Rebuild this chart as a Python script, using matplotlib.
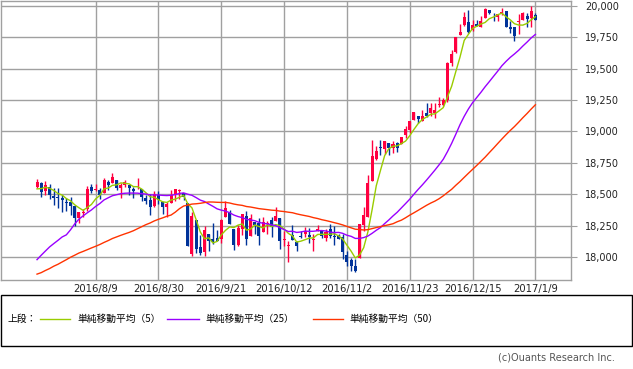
import matplotlib
matplotlib.use("Agg")
import matplotlib.pyplot as plt
from matplotlib.lines import Line2D
from matplotlib.patches import Rectangle
import pandas as pd

# closes before the first drawn day (only used to warm up the moving averages)
prior_close = [17928, 17711, 17720, 17535, 17710, 17530, 17526, 17435, 17500, 17492,
               17706, 17851, 17828, 17873, 17787, 17789, 17838, 17807, 17920, 17938,
               18005, 17985, 17865, 17733, 17675, 17640, 17733, 17675, 17805, 17829,
               17780, 18011, 17400, 17140, 17410, 17695, 17930, 17949, 17841, 17918,
               17896, 18147, 18226, 18348, 18372, 18506, 18517, 18534, 18559]

opens = [18560, 18590, 18524, 18555, 18486, 18476, 18468, 18438, 18434, 18403,
         18311, 18350, 18385, 18556, 18532, 18535, 18510, 18601, 18589, 18617,
         18552, 18575, 18577, 18540, 18546, 18538, 18471, 18456, 18403, 18495,
         18440, 18401, 18429, 18496, 18524, 18513, 18433, 18025, 18292, 18076,
         18041, 18186, 18146, 18152, 18144, 18318, 18358, 18222, 18097, 18226,
         18330, 18167, 18282, 18270, 18202, 18266, 18295, 18283, 18309, 18132,
         18088, 18177, 18116, 18164, 18182, 18173, 18131, 18203, 18209, 18148,
         18222, 18170, 18174, 18158, 18018, 17979, 17928, 17994, 18251, 18317,
         18603, 18781, 18876, 18858, 18909, 18867, 18905, 18898, 18972, 19015,
         19093, 19122, 19084, 19150, 19149, 19150, 19208, 19212, 19253, 19544,
         19631, 19770, 19852, 19876, 19811, 19857, 19836, 19907, 19970, 19922,
         19916, 19943, 19964, 19835, 19833, 19873, 19891, 19924, 19906, 19931]
highs = [18622, 18600, 18606, 18580, 18547, 18551, 18490, 18467, 18481, 18403,
         18356, 18383, 18563, 18578, 18584, 18552, 18628, 18613, 18668, 18617,
         18587, 18613, 18577, 18559, 18628, 18538, 18495, 18505, 18523, 18527,
         18440, 18440, 18532, 18538, 18541, 18513, 18433, 18358, 18292, 18176,
         18247, 18186, 18272, 18211, 18305, 18449, 18371, 18222, 18255, 18340,
         18365, 18339, 18282, 18310, 18317, 18288, 18320, 18400, 18313, 18208,
         18123, 18254, 18129, 18206, 18242, 18232, 18183, 18255, 18214, 18224,
         18266, 18243, 18185, 18179, 18051, 17990, 17985, 18264, 18400, 18650,
         18934, 18885, 18934, 18925, 18909, 18928, 18915, 18957, 19043, 19083,
         19152, 19122, 19170, 19225, 19224, 19230, 19273, 19267, 19552, 19650,
         19757, 19853, 19953, 19966, 19888, 19890, 19917, 19988, 19971, 19942,
         19934, 19981, 19964, 19878, 19834, 19938, 19956, 19948, 19999, 19943]
lows = [18547, 18476, 18495, 18465, 18412, 18387, 18360, 18370, 18338, 18247,
        18270, 18315, 18368, 18506, 18522, 18462, 18510, 18534, 18589, 18534,
        18468, 18559, 18491, 18469, 18545, 18446, 18423, 18335, 18399, 18419,
        18342, 18316, 18429, 18449, 18462, 18451, 18085, 18009, 18028, 18018,
        18005, 18049, 18103, 18123, 18113, 18318, 18261, 18058, 18088, 18171,
        18093, 18167, 18186, 18098, 18202, 18182, 18161, 18283, 18062, 18084,
        17959, 18138, 18050, 18150, 18162, 18107, 18045, 18203, 18153, 18130,
        18150, 18095, 18140, 17980, 17931, 17884, 17883, 17994, 18208, 18317,
        18603, 18770, 18815, 18819, 18814, 18831, 18836, 18898, 18946, 18991,
        19093, 19064, 19084, 19118, 19127, 19111, 19195, 19205, 19236, 19521,
        19628, 19766, 19843, 19781, 19804, 19842, 19835, 19907, 19936, 19878,
        19880, 19930, 19831, 19788, 19718, 19775, 19891, 19835, 19834, 19887]
closes = [18595, 18517, 18571, 18493, 18473, 18472, 18456, 18432, 18404, 18313,
          18355, 18352, 18543, 18529, 18533, 18495, 18613, 18576, 18636, 18552,
          18573, 18597, 18552, 18529, 18547, 18481, 18448, 18395, 18502, 18454,
          18400, 18419, 18492, 18538, 18526, 18479, 18085, 18325, 18067, 18034,
          18212, 18124, 18120, 18129, 18293, 18392, 18261, 18094, 18228, 18339,
          18143, 18308, 18254, 18168, 18281, 18269, 18240, 18329, 18128, 18144,
          18098, 18138, 18086, 18162, 18203, 18162, 18145, 18223, 18169, 18199,
          18169, 18161, 18142, 18037, 17959, 17930, 17888, 18259, 18332, 18589,
          18807, 18847, 18868, 18923, 18868, 18903, 18867, 18956, 19023, 19083,
          19152, 19097, 19121, 19123, 19191, 19170, 19216, 19251, 19549, 19615,
          19757, 19796, 19911, 19792, 19852, 19843, 19884, 19975, 19942, 19918,
          19934, 19946, 19833, 19819, 19763, 19882, 19942, 19900, 19964, 19887]

tick_pos = [14, 29, 44, 59, 74, 89, 104, 119]
tick_labels = ["2016/8/9", "2016/8/30", "2016/9/21", "2016/10/12",
               "2016/11/2", "2016/11/23", "2016/12/15", "2017/1/9"]
y_ticks = [18000, 18250, 18500, 18750, 19000, 19250, 19500, 19750, 20000]

ma_periods = [5, 25, 50]
ma_colors = ["#99cc00", "#9900ff", "#ff3300"]
ma_labels = ["単純移動平均（5）", "単純移動平均（25）", "単純移動平均（50）"]

UP = "#ff0040"
DOWN = "#003399"
GRID = "#a0a0a0"

all_close = pd.Series(prior_close + closes)
n = len(closes)
x = list(range(n))

fig = plt.figure(figsize=(6.33, 3.69), dpi=100)
ax = fig.add_axes([1 / 633, 1 - 280 / 369, 570 / 633, 279.5 / 369])

ax.set_xlim(-8.6, 127.5)
ax.set_ylim(17816, 20044)

ax.set_xticks(tick_pos)
ax.set_xticklabels(tick_labels)
ax.set_yticks(y_ticks)
ax.set_yticklabels([f"{v:,}" for v in y_ticks])
ax.yaxis.tick_right()
ax.tick_params(axis="y", length=4, color=GRID, pad=6, labelsize=7, labelcolor="#222222")
ax.tick_params(axis="x", length=0, pad=3, labelsize=7.2, labelcolor="#222222")
ax.grid(True, color=GRID, lw=1)
ax.set_axisbelow(True)
for sp in ax.spines.values():
    sp.set_color(GRID)
    sp.set_linewidth(1)

# candles
for i in x:
    o, h, l, c = opens[i], highs[i], lows[i], closes[i]
    col = UP if c >= o else DOWN
    ax.vlines(i, l, h, color=col, lw=1, zorder=2)
    body = max(abs(c - o), 6)
    ax.bar(i, body, width=0.72, bottom=min(o, c), color=col, linewidth=0, zorder=3)

# moving averages
for p, col in zip(ma_periods, ma_colors):
    ma = all_close.rolling(p).mean().iloc[len(prior_close):].values
    ax.plot(x, ma, color=col, lw=1, zorder=4)

# legend box
fig.add_artist(Rectangle((0.5 / 633, 1 - 346 / 369), 631 / 633, 51 / 369,
                         transform=fig.transFigure, fill=False, edgecolor="black", lw=1))
ly = 1 - 319 / 369
fig.text(8 / 633, ly, "上段：", fontsize=7, family=["Noto Sans CJK JP"], va="center")
line_x = [(40, 70), (167, 199), (313, 343)]
text_x = [77, 205, 349]
for (a, b), tx, col, lab in zip(line_x, text_x, ma_colors, ma_labels):
    fig.add_artist(Line2D([a / 633, b / 633], [ly, ly], transform=fig.transFigure,
                          color=col, lw=1))
    fig.text(tx / 633, ly, lab, fontsize=7, family=["Noto Sans CJK JP"], va="center")

fig.text(615 / 633, 1 - 357 / 369, "(c)Ouants Research Inc.", fontsize=7,
         color="#555555", ha="right", va="center")

fig.savefig("out.png", dpi=100)
